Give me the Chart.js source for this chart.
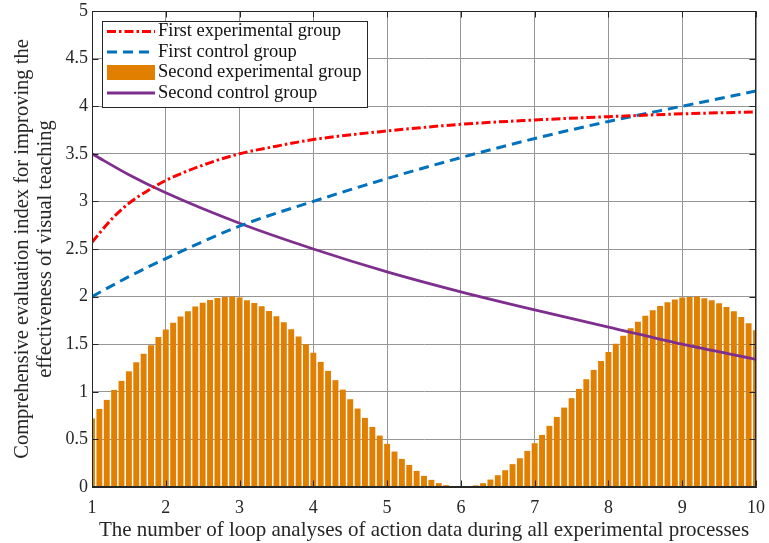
<!DOCTYPE html>
<html>
<head>
<meta charset="utf-8">
<script src="https://cdn.jsdelivr.net/npm/chart.js@4.4.1/dist/chart.umd.min.js"></script>
<style>
  html, body { margin: 0; padding: 0; background: #fff; }
  #wrap { width: 769px; height: 543px; }
</style>
</head>
<body>
<div id="wrap"><canvas id="chart" width="769" height="543"></canvas></div>
<script>
// Series names (legend order)
const seriesNames = [
  'First experimental group',
  'First control group',
  'Second experimental group',
  'Second control group'
];

// Second experimental group: one bar every tenth of a loop, from loop 1.0 to 10.0
const secondExperimental = [
  0.72, 0.82, 0.915, 1.02, 1.115, 1.215, 1.31, 1.40, 1.49, 1.575,
  1.655, 1.725, 1.79, 1.845, 1.895, 1.935, 1.965, 1.985, 1.995, 2.0,
  1.99, 1.962, 1.934, 1.899, 1.85, 1.794, 1.731, 1.657, 1.58, 1.50,
  1.409, 1.314, 1.22, 1.122, 1.023, 0.922, 0.824, 0.726, 0.631, 0.54,
  0.453, 0.372, 0.295, 0.232, 0.169, 0.117, 0.075, 0.04, 0.019, 0.005,
  0.0, 0.004, 0.017, 0.04, 0.078, 0.124, 0.176, 0.24, 0.302, 0.379,
  0.46, 0.547, 0.642, 0.736, 0.834, 0.933, 1.03, 1.132, 1.23, 1.324,
  1.419, 1.506, 1.59, 1.668, 1.737, 1.80, 1.857, 1.902, 1.941, 1.969,
  1.99, 1.997, 2.0, 1.983, 1.962, 1.93, 1.892, 1.846, 1.787, 1.72,
  1.647
];
const barLoops = secondExperimental.map((_, i) => +(1 + i * 0.1).toFixed(1));

// First experimental group
const firstExpLoops = [1, 1.25, 1.5, 1.75, 2, 2.5, 3, 3.5, 4, 5, 6, 7, 8, 9, 10];
const firstExperimental = [2.57, 2.80, 2.98, 3.11, 3.22, 3.38, 3.50, 3.58, 3.65, 3.74, 3.81, 3.855, 3.89, 3.92, 3.94];

// First control group
const firstCtrlLoops = [1, 1.5, 2, 3, 4, 5, 6, 7, 8, 9, 10];
const firstControl = [2.0, 2.21, 2.40, 2.74, 3.0, 3.24, 3.46, 3.66, 3.84, 4.0, 4.16];

// Second control group
const secondCtrlLoops = [1, 1.5, 2, 3, 4, 5, 6, 7, 8, 9, 10];
const secondControl = [3.5, 3.28, 3.09, 2.77, 2.5, 2.26, 2.05, 1.86, 1.68, 1.5, 1.34];

// Axis ticks
const xTicks = [1, 2, 3, 4, 5, 6, 7, 8, 9, 10];
const yTickLabels = ['0', '0.5', '1', '1.5', '2', '2.5', '3', '3.5', '4', '4.5', '5'];

const pts = (xs, ys) => xs.map((x, i) => ({ x, y: ys[i] }));

const SERIF = "'Liberation Serif', 'Times New Roman', serif";
const INK = '#262626';
const GRID = '#969696';

// Box around the axes with inward tick marks, plus the framed legend
const framePlugin = {
  id: 'frameAndLegend',
  afterDraw(chart) {
    const { ctx, chartArea: a, scales: { x, y } } = chart;
    ctx.save();
    ctx.strokeStyle = INK;
    ctx.lineWidth = 1;
    const L = Math.round(a.left) + 0.5, R = Math.round(a.right) - 0.5;
    const T = Math.round(a.top) + 0.5, B = Math.round(a.bottom) - 0.5;
    ctx.strokeRect(L, T, R - L, B - T);
    const tl = 6;
    ctx.beginPath();
    x.ticks.forEach(t => {
      const px = Math.round(x.getPixelForValue(t.value)) + 0.5;
      ctx.moveTo(px, B); ctx.lineTo(px, B - tl);
      ctx.moveTo(px, T); ctx.lineTo(px, T + tl);
    });
    y.ticks.forEach(t => {
      const py = Math.round(y.getPixelForValue(t.value)) + 0.5;
      ctx.moveTo(L, py); ctx.lineTo(L + tl, py);
      ctx.moveTo(R, py); ctx.lineTo(R - tl, py);
    });
    ctx.stroke();

    // legend
    const bx = 102.5, by = 21.5, bw = 265, bh = 86;
    ctx.fillStyle = '#fff';
    ctx.fillRect(bx, by, bw, bh);
    ctx.strokeStyle = INK;
    ctx.lineWidth = 1;
    ctx.setLineDash([]);
    ctx.strokeRect(bx, by, bw, bh);
    const rowY = [31.5, 52, 72.5, 93];
    const sx0 = 107, sx1 = 155, tx = 158;
    chart.data.datasets.forEach((ds, i) => {
      const cy = rowY[i];
      if (ds.type === 'bar') {
        ctx.fillStyle = ds.backgroundColor;
        ctx.fillRect(sx0, cy - 7.5, sx1 - sx0, 15);
      } else {
        ctx.strokeStyle = ds.borderColor;
        ctx.lineWidth = ds.borderWidth;
        ctx.setLineDash(ds.borderDash || []);
        ctx.beginPath();
        ctx.moveTo(sx0, cy);
        ctx.lineTo(sx1, cy);
        ctx.stroke();
        ctx.setLineDash([]);
      }
      ctx.fillStyle = '#111';
      ctx.font = `18.5px ${SERIF}`;
      ctx.textBaseline = 'middle';
      ctx.textAlign = 'left';
      ctx.fillText(ds.label, tx, cy);
    });
    ctx.restore();
  }
};

new Chart(document.getElementById('chart'), {
  type: 'line',
  data: {
    datasets: [
      {
        type: 'line',
        label: seriesNames[0],
        data: pts(firstExpLoops, firstExperimental),
        borderColor: '#ff0000',
        borderWidth: 3,
        borderDash: [9, 3, 2.5, 3],
        pointRadius: 0,
        cubicInterpolationMode: 'monotone',
        fill: false,
        order: 0
      },
      {
        type: 'line',
        label: seriesNames[1],
        data: pts(firstCtrlLoops, firstControl),
        borderColor: '#0072BD',
        borderWidth: 3,
        borderDash: [10, 6],
        pointRadius: 0,
        cubicInterpolationMode: 'monotone',
        fill: false,
        order: 0
      },
      {
        type: 'bar',
        label: seriesNames[2],
        data: pts(barLoops, secondExperimental),
        backgroundColor: '#E07F00',
        borderWidth: 0,
        barPercentage: 0.8,
        categoryPercentage: 1.0,
        clip: 0,
        order: 1
      },
      {
        type: 'line',
        label: seriesNames[3],
        data: pts(secondCtrlLoops, secondControl),
        borderColor: '#7E2F8E',
        borderWidth: 2.8,
        pointRadius: 0,
        cubicInterpolationMode: 'monotone',
        fill: false,
        order: 0
      }
    ]
  },
  options: {
    responsive: false,
    animation: false,
    devicePixelRatio: 1,
    layout: { padding: { top: 11, right: 13, left: 0, bottom: 0 } },
    plugins: { legend: { display: false }, tooltip: { enabled: false } },
    scales: {
      x: {
        type: 'linear',
        min: 1,
        max: 10,
        offset: false,
        afterBuildTicks(s) { s.ticks = xTicks.map(v => ({ value: v })); },
        ticks: {
          font: { family: SERIF, size: 18 },
          color: INK,
          padding: 10,
          maxRotation: 0,
          autoSkip: false
        },
        grid: { color: GRID, lineWidth: 1, drawTicks: false, offset: false },
        border: { color: INK, width: 1 },
        title: {
          display: true,
          text: 'The number of loop analyses of action data during all experimental processes',
          font: { family: SERIF, size: 21, lineHeight: 1.15 },
          color: INK,
          padding: { top: 0, bottom: 0 }
        },
        afterFit(s) { s.height = 56; s.paddingLeft = 0; s.paddingRight = 0; }
      },
      y: {
        type: 'linear',
        min: 0,
        max: 5,
        ticks: {
          stepSize: 0.5,
          font: { family: SERIF, size: 18 },
          color: INK,
          padding: 4,
          callback: (v, i) => yTickLabels[i]
        },
        grid: { color: GRID, lineWidth: 1, drawTicks: false },
        border: { color: INK, width: 1 },
        title: {
          display: true,
          text: ['Comprehensive evaluation index for improving the', 'effectiveness of visual teaching'],
          font: { family: SERIF, size: 20.5, lineHeight: 1.08 },
          color: INK,
          padding: { top: 12, bottom: 0 }
        },
        afterFit(s) { s.width = 92; s.paddingTop = 0; s.paddingBottom = 0; }
      }
    }
  },
  plugins: [framePlugin]
});
</script>
</body>
</html>
